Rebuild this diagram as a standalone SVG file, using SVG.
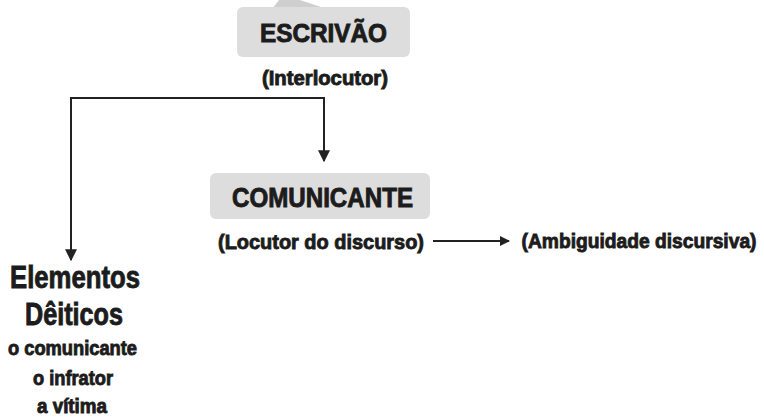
<svg xmlns="http://www.w3.org/2000/svg" width="764" height="418" viewBox="0 0 764 418">
<defs>
<style>
.t{font-family:"Liberation Sans","Arial",sans-serif;font-weight:bold;fill:#1c1c1c;stroke:#1c1c1c;stroke-width:0.9;text-anchor:middle}
.box{fill:#dddddd}
.ln{stroke:#222;stroke-width:2;fill:none}
</style>
<marker id="ah" viewBox="0 0 10 10" refX="9" refY="5" markerWidth="13" markerHeight="12" markerUnits="userSpaceOnUse" orient="auto">
<path d="M0,0 L10,5 L0,10 Z" fill="#222"/>
</marker>
<marker id="ahs" viewBox="0 0 10 10" refX="9" refY="5" markerWidth="12" markerHeight="10" markerUnits="userSpaceOnUse" orient="auto">
<path d="M0,0 L10,5 L0,10 Z" fill="#222"/>
</marker>
</defs>
<rect width="764" height="418" fill="#fff"/>
<polygon points="272,9 279,0 300,0 327,9" fill="#cfcfcf"/>
<g id="escrivao">
<rect class="box" x="237" y="7" width="173" height="50" rx="6"/>
<text class="t" x="323.5" y="42" font-size="25" textLength="127" lengthAdjust="spacingAndGlyphs">ESCRIVÃO</text>
<text class="t" x="325" y="85" font-size="20" textLength="126" lengthAdjust="spacingAndGlyphs">(Interlocutor)</text>
</g>
<g id="comunicante">
<rect class="box" x="210" y="173" width="220" height="46" rx="6"/>
<text class="t" x="322.5" y="207" font-size="27" textLength="181" lengthAdjust="spacingAndGlyphs">COMUNICANTE</text>
<text class="t" x="321" y="249" font-size="21" textLength="206" lengthAdjust="spacingAndGlyphs">(Locutor do discurso)</text>
</g>
<g id="ambiguidade" transform="translate(639,248) scale(0.88,1)">
<text class="t" x="0" y="0" font-size="21" textLength="267" lengthAdjust="spacingAndGlyphs">(Ambiguidade discursiva)</text>
</g>
<g id="elementos">
<text class="t" x="75" y="288" font-size="31" textLength="130" lengthAdjust="spacingAndGlyphs">Elementos</text>
<text class="t" x="74" y="325" font-size="31" textLength="98" lengthAdjust="spacingAndGlyphs">Dêiticos</text>
<text class="t" x="72.5" y="355" font-size="20" textLength="129" lengthAdjust="spacingAndGlyphs">o comunicante</text>
<text class="t" x="73" y="385" font-size="20" textLength="80" lengthAdjust="spacingAndGlyphs">o infrator</text>
<text class="t" x="72" y="413" font-size="20" textLength="70" lengthAdjust="spacingAndGlyphs">a vítima</text>
</g>
<g id="connectors">
<polyline class="ln" points="71,98 324,98 324,161" marker-end="url(#ah)"/>
<line class="ln" x1="71" y1="97" x2="71" y2="260" marker-end="url(#ah)"/>
<line class="ln" x1="433" y1="241" x2="509" y2="241" stroke-width="1.5" marker-end="url(#ahs)"/>
</g>
</svg>
